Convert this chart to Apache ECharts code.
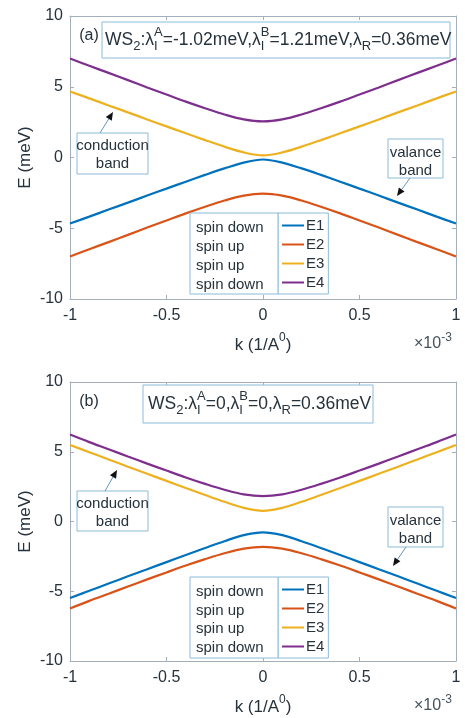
<!DOCTYPE html>
<html>
<head>
<meta charset="utf-8">
<script src="https://cdn.jsdelivr.net/npm/echarts@6.0.0/dist/echarts.min.js"></script>
<style>
  html, body { margin: 0; padding: 0; background: #fff; }
  #chart { width: 465px; height: 718px; }
</style>
</head>
<body>
<div id="chart"></div>
<script>
// k values (x 10^-3 1/A^0)
var k = [-1, -0.9, -0.8, -0.7, -0.6, -0.5, -0.4, -0.3, -0.2, -0.1, 0,
         0.1, 0.2, 0.3, 0.4, 0.5, 0.6, 0.7, 0.8, 0.9, 1];

// panel (a) energies, meV
var E1a = [-4.67, -4.18, -3.68, -3.19, -2.69, -2.2, -1.71, -1.23, -0.77, -0.36, -0.14,
           -0.36, -0.77, -1.23, -1.71, -2.2, -2.69, -3.19, -3.68, -4.18, -4.67];
var E2a = [-7.0, -6.48, -5.98, -5.47, -4.95, -4.45, -3.95, -3.48, -3.04, -2.69, -2.55,
           -2.69, -3.04, -3.48, -3.95, -4.45, -4.95, -5.47, -5.98, -6.48, -7.0];
var E3a = [4.67, 4.18, 3.68, 3.19, 2.69, 2.2, 1.71, 1.23, 0.77, 0.36, 0.15,
           0.36, 0.77, 1.23, 1.71, 2.2, 2.69, 3.19, 3.68, 4.18, 4.67];
var E4a = [7.0, 6.48, 5.98, 5.47, 4.95, 4.45, 3.95, 3.48, 3.04, 2.69, 2.55,
           2.69, 3.04, 3.48, 3.95, 4.45, 4.95, 5.47, 5.98, 6.48, 7.0];

// panel (b) energies, meV
var E1b = [-5.48, -4.97, -4.45, -3.93, -3.42, -2.91, -2.4, -1.9, -1.41, -0.98, -0.78,
           -0.98, -1.41, -1.9, -2.4, -2.91, -3.42, -3.93, -4.45, -4.97, -5.48];
var E2b = [-6.23, -5.69, -5.18, -4.66, -4.15, -3.65, -3.16, -2.7, -2.28, -1.95, -1.82,
           -1.95, -2.28, -2.7, -3.16, -3.65, -4.15, -4.66, -5.18, -5.69, -6.23];
var E3b = [5.48, 4.97, 4.45, 3.93, 3.42, 2.91, 2.4, 1.9, 1.41, 0.98, 0.76,
           0.98, 1.41, 1.9, 2.4, 2.91, 3.42, 3.93, 4.45, 4.97, 5.48];
var E4b = [6.23, 5.69, 5.18, 4.66, 4.15, 3.65, 3.16, 2.7, 2.28, 1.95, 1.82,
           1.95, 2.28, 2.7, 3.16, 3.65, 4.15, 4.66, 5.18, 5.69, 6.23];

var names = ["E1", "E2", "E3", "E4"];
var spins = ["spin down", "spin up", "spin up", "spin down"];
var colors = ["#0072bd", "#d95319", "#edb120", "#7e2f8e"];

var FONT = '"Liberation Sans", Arial, sans-serif';
var txt = "#26323c";
var frame = "#a3b0bc";
var boxLine = "#8cbcd8";

var chart = echarts.init(document.getElementById("chart"));

// measure text for hand placed sub/superscripts
var ctx = document.createElement("canvas").getContext("2d");
function tw(s, size) {
  ctx.font = size + "px " + FONT;
  return ctx.measureText(s).width;
}

// parts: strings, or {sub:..}, {sup:..}, {sup:.., sub:..}
function mathText(parts, x, y, size, align, color) {
  var small = Math.round(size * 0.72);
  var total = 0;
  parts.forEach(function (p) {
    if (typeof p === "string") total += tw(p, size);
    else total += Math.max(p.sup ? tw(p.sup, small) : 0, p.sub ? tw(p.sub, small) : 0);
  });
  var cx = align === "center" ? x - total / 2 : x;
  var out = [];
  function put(s, px, py, fs) {
    out.push({
      type: "text", x: px, y: py, z: 20,
      style: { text: s, font: fs + "px " + FONT, fill: color || txt,
               align: "left", verticalAlign: "middle" }
    });
  }
  parts.forEach(function (p) {
    if (typeof p === "string") {
      put(p, cx, y, size);
      cx += tw(p, size);
    } else {
      if (p.sup) put(p.sup, cx, y - size * 0.42, small);
      if (p.sub) put(p.sub, cx, y + size * 0.36, small);
      cx += Math.max(p.sup ? tw(p.sup, small) : 0, p.sub ? tw(p.sub, small) : 0);
    }
  });
  return out;
}

function box(x, y, w, h) {
  return { type: "rect", z: 15, shape: { x: x, y: y, width: w, height: h },
           style: { fill: "#fff", stroke: boxLine, lineWidth: 1 } };
}

function label(s, x, y, size) {
  return { type: "text", x: x, y: y, z: 20,
           style: { text: s, font: size + "px " + FONT, fill: txt,
                    align: "center", verticalAlign: "middle" } };
}

function arrow(x1, y1, x2, y2) {
  var dx = x2 - x1, dy = y2 - y1, L = Math.sqrt(dx * dx + dy * dy);
  var ux = dx / L, uy = dy / L, px = -uy, py = ux;
  var hl = 8, hw = 3.5;
  var bx = x2 - ux * hl, by = y2 - uy * hl;
  return [
    { type: "line", z: 16, shape: { x1: x1, y1: y1, x2: bx, y2: by },
      style: { stroke: "#5f97bd", lineWidth: 1 } },
    { type: "polygon", z: 16,
      shape: { points: [[x2, y2], [bx + px * hw, by + py * hw], [bx - px * hw, by - py * hw]] },
      style: { fill: "#111" } }
  ];
}

function panelGraphics(top, bottom, title, titleBox, tag, conduction, valance, legTop, legRows) {
  var g = [];
  g.push(box(titleBox[0], titleBox[1], titleBox[2], titleBox[3]));
  g = g.concat(mathText(title, titleBox[4], titleBox[5], 17.5, "left"));
  g.push(label(tag, 89, top + 20, 16));
  // conduction band note
  g.push(box(conduction[0], conduction[1], 71, conduction[2]));
  g.push(label("conduction", 112.5, conduction[1] + 13, 15));
  g.push(label("band", 112.5, conduction[1] + 31, 15));
  g = g.concat(arrow.apply(null, conduction[3]));
  // valance band note
  g.push(box(valance[0], valance[1], 55, valance[2]));
  g.push(label("valance", 415.5, valance[1] + 14, 15));
  g.push(label("band", 415.5, valance[1] + 32, 15));
  g = g.concat(arrow.apply(null, valance[3]));
  // spin column of legend
  g.push(box(190, legTop, 88, 81));
  spins.forEach(function (s, i) {
    g.push({ type: "text", x: 196, y: legRows[i], z: 20,
             style: { text: s, font: "15px " + FONT, fill: txt,
                      align: "left", verticalAlign: "middle" } });
  });
  // axis titles and exponent
  g.push({ type: "text", x: 25, y: (top + bottom) / 2, rotation: Math.PI / 2, z: 20,
           style: { text: "E (meV)", font: "17px " + FONT, fill: txt,
                    align: "center", verticalAlign: "middle" } });
  g = g.concat(mathText(["k (1/A", { sup: "0" }, ")"], 263, bottom + 46, 17, "center"));
  g = g.concat(mathText(["\u00d710", { sup: "-3" }], 414, bottom + 45, 16, "left", "#46525c"));
  return g;
}

var graphics = []
  .concat(panelGraphics(16, 299,
    ["WS", { sub: "2" }, ":\u03bb", { sup: "A", sub: "I" }, "=-1.02meV,\u03bb", { sup: "B", sub: "I" },
     "=1.21meV,\u03bb", { sub: "R" }, "=0.36meV"],
    [102, 22, 348, 36, 105, 40], "(a)",
    [77, 133, 41, [100, 133, 113, 112]],
    [388, 139, 39, [410, 178, 397, 196]],
    213, [228, 247, 266, 285]))
  .concat(panelGraphics(382, 661,
    ["WS", { sub: "2" }, ":\u03bb", { sup: "A", sub: "I" }, "=0,\u03bb", { sup: "B", sub: "I" },
     "=0,\u03bb", { sub: "R" }, "=0.36meV"],
    [143, 385, 230, 38, 148, 404], "(b)",
    [77, 491, 40, [105, 491, 117, 470]],
    [388, 507, 40, [406, 547, 393, 566]],
    577, [592, 611, 629, 648]));

function xAx(grid, pos) {
  return {
    type: "value", gridIndex: grid, position: pos, min: -1, max: 1, interval: 0.5,
    axisLine: { onZero: false, lineStyle: { color: frame, width: 1 } },
    axisTick: { inside: true, length: 4, lineStyle: { color: frame } },
    axisLabel: { show: pos === "bottom", color: txt, fontSize: 16, fontFamily: FONT, margin: 9 },
    splitLine: { show: false }
  };
}
function yAx(grid, pos) {
  return {
    type: "value", gridIndex: grid, position: pos, min: -10, max: 10, interval: 5,
    axisLine: { onZero: false, lineStyle: { color: frame, width: 1 } },
    axisTick: { inside: true, length: 4, lineStyle: { color: frame } },
    axisLabel: { show: pos === "left", color: txt, fontSize: 16, fontFamily: FONT, margin: 7 },
    splitLine: { show: false }
  };
}

function mkSeries(arr, i, panel) {
  return {
    name: names[i], type: "line", xAxisIndex: panel * 2, yAxisIndex: panel * 2,
    data: k.map(function (x, j) { return [x, arr[j]]; }),
    smooth: 0.35, showSymbol: false, symbol: "none",
    lineStyle: { color: colors[i], width: 2.2 }, itemStyle: { color: colors[i] },
    z: 5 + i
  };
}

function legend(top) {
  return {
    data: names, orient: "vertical", left: 278, top: top,
    icon: "rect", itemWidth: 22, itemHeight: 2, itemGap: 4,
    selectedMode: false,
    padding: [5, 4, 4, 4], borderColor: boxLine, borderWidth: 1, backgroundColor: "#fff",
    textStyle: { color: txt, fontSize: 15, fontFamily: FONT, lineHeight: 15, padding: [0, 0, 0, -3] }
  };
}

chart.setOption({
  animation: false,
  backgroundColor: "#fff",
  grid: [
    { left: 70, right: 9, top: 16, height: 283 },
    { left: 70, right: 9, top: 382, height: 279 }
  ],
  xAxis: [xAx(0, "bottom"), xAx(0, "top"), xAx(1, "bottom"), xAx(1, "top")],
  yAxis: [yAx(0, "left"), yAx(0, "right"), yAx(1, "left"), yAx(1, "right")],
  legend: [legend(213), legend(577)],
  series: [
    mkSeries(E1a, 0, 0), mkSeries(E2a, 1, 0), mkSeries(E3a, 2, 0), mkSeries(E4a, 3, 0),
    mkSeries(E1b, 0, 1), mkSeries(E2b, 1, 1), mkSeries(E3b, 2, 1), mkSeries(E4b, 3, 1)
  ],
  graphic: graphics
});
</script>
</body>
</html>
